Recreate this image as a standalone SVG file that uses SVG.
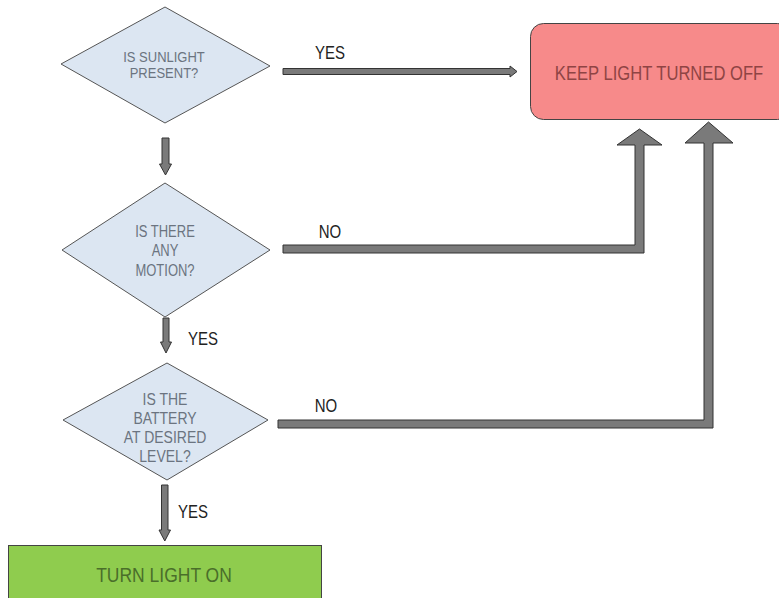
<svg xmlns="http://www.w3.org/2000/svg" width="779" height="598" viewBox="0 0 779 598">
<style>
.dia{fill:#dce6f2;stroke:#555;stroke-width:1}
.arr{fill:#7a7a7a;stroke:#333;stroke-width:1;stroke-linejoin:miter}
text{font-family:"Liberation Sans",Arial,sans-serif;text-anchor:middle}
.dt{fill:#6b7480;font-size:13px}
.dt3{fill:#6b7480;font-size:14px}
.lbl{fill:#222;font-size:15px}
</style>
<rect width="779" height="598" fill="#fff"/>
<g id="connectors">
<polygon class="arr" points="162,138 169,138 169,164 171.5,164 165.5,175 159.5,164 162,164"/>
<polygon class="arr" points="163,318 169,318 169,342 171.5,342 166,353 160.5,342 163,342"/>
<polygon class="arr" points="161.5,485 168,485 168,530 170.5,530 164.8,541 159,530 161.5,530"/>
<polygon class="arr" points="283,68.5 510,68.5 510,66 517,71.5 510,77 510,74.5 283,74.5"/>
<polygon class="arr" points="283,245 635,245 635,145 617,145 639.5,129 662,145 644,145 644,253 283,253"/>
<polygon class="arr" points="278,420 704,420 704,143 685,143 708.5,122 733,143 713,143 713,428 278,428"/>
<text class="lbl" transform="translate(330,59) scale(1,1.25)">YES</text>
<text class="lbl" transform="translate(330,238) scale(1,1.25)">NO</text>
<text class="lbl" transform="translate(203,345) scale(1,1.25)">YES</text>
<text class="lbl" transform="translate(326,412) scale(1,1.25)">NO</text>
<text class="lbl" transform="translate(193,518) scale(1,1.25)">YES</text>
</g>
<g id="sunlight">
<polygon class="dia" points="165,7 270,66 165,123 61,64"/>
<text class="dt" transform="translate(164,62) scale(1,1.1)">IS SUNLIGHT</text>
<text class="dt" transform="translate(164,78) scale(1,1.1)">PRESENT?</text>
</g>
<g id="motion">
<polygon class="dia" points="165,183 270,250 165,317 62,250"/>
<text class="dt" transform="translate(165,237) scale(1,1.2)">IS THERE</text>
<text class="dt" transform="translate(165,256) scale(1,1.2)">ANY</text>
<text class="dt" transform="translate(165,276) scale(1,1.2)">MOTION?</text>
</g>
<g id="battery">
<polygon class="dia" points="167,363 268,420 167,480 63,420"/>
<text class="dt3" transform="translate(165,405) scale(1,1.2)">IS THE</text>
<text class="dt3" transform="translate(165,424) scale(1,1.2)">BATTERY</text>
<text class="dt3" transform="translate(165,443) scale(1,1.2)">AT DESIRED</text>
<text class="dt3" transform="translate(165,462) scale(1,1.2)">LEVEL?</text>
</g>
<g id="keep-off">
<rect x="530.5" y="23.5" width="260" height="96" rx="13" fill="#f78a8a" stroke="#444" stroke-width="1"/>
<text transform="translate(659,80) scale(1,1.18)" font-size="16.6" fill="#8f4444">KEEP LIGHT TURNED OFF</text>
</g>
<g id="turn-on">
<rect x="8.5" y="545.5" width="313" height="70" fill="#8fcc4e" stroke="#444" stroke-width="1"/>
<text transform="translate(164,582) scale(1,1.2)" font-size="17.5" fill="#4a6e2a">TURN LIGHT ON</text>
</g>
</svg>
